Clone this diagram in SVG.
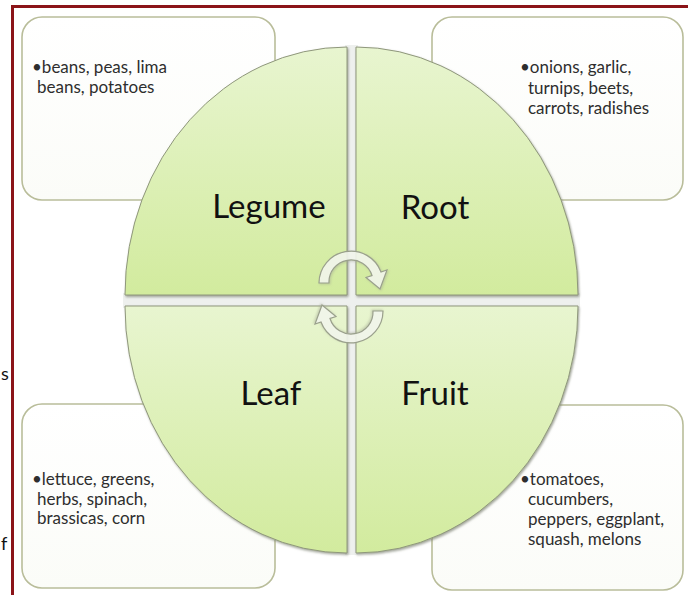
<svg xmlns="http://www.w3.org/2000/svg" width="688" height="595" viewBox="0 0 688 595">
<defs>
<linearGradient id="gq" x1="0" y1="0" x2="0" y2="1">
<stop offset="0" stop-color="#e8f5d0"/>
<stop offset="1" stop-color="#d2eb9e"/>
</linearGradient>
<linearGradient id="gb" x1="0" y1="0" x2="0" y2="1">
<stop offset="0" stop-color="#ffffff"/>
<stop offset="1" stop-color="#fbfcf8"/>
</linearGradient>
<filter id="sh" x="-10%" y="-10%" width="120%" height="120%">
<feDropShadow dx="1" dy="1.5" stdDeviation="1.2" flood-color="#7a7f70" flood-opacity="0.7"/>
</filter>
<filter id="sh2" x="-10%" y="-10%" width="120%" height="120%">
<feDropShadow dx="1" dy="1" stdDeviation="1" flood-color="#a0a490" flood-opacity="0.5"/>
</filter>
</defs>
<style>
.box{fill:url(#gb);stroke:#b9bd9a;stroke-width:1.6;}
.q{fill:url(#gq);stroke:#8f977c;stroke-width:1;filter:url(#sh);}
.bt{font-family:Lato,"Liberation Sans",sans-serif;font-size:17px;fill:#2e2e2e;}
.lb{font-family:Lato,"Liberation Sans",sans-serif;font-size:33px;fill:#111;text-anchor:middle;}
.arr{fill:#f6f9f0;fill-opacity:0.85;stroke:#9aa08c;stroke-width:1.2;filter:url(#sh2);}
.st{font-family:Lato,"Liberation Sans",sans-serif;font-size:18px;fill:#111;}
</style>
<rect width="688" height="595" fill="#ffffff"/>
<text class="st" x="1" y="380">s</text>
<text class="st" x="1" y="550">f</text>
<path d="M12.5,595 L12.5,6.5 L688,6.5" fill="none" stroke="#8b1418" stroke-width="3"/>

<g id="box-legume">
<rect class="box" x="22" y="17" width="253" height="183" rx="20"/>
<text class="bt" x="32" y="73">•beans, peas, lima</text>
<text class="bt" x="37" y="93">beans, potatoes</text>
</g>
<g id="box-root">
<rect class="box" x="432" y="17" width="251" height="183" rx="20"/>
<text class="bt" x="520" y="73">•onions, garlic,</text>
<text class="bt" x="528" y="94">turnips, beets,</text>
<text class="bt" x="528" y="114">carrots, radishes</text>
</g>
<g id="box-leaf">
<rect class="box" x="22" y="404" width="253" height="184" rx="20"/>
<text class="bt" x="32" y="485">•lettuce, greens,</text>
<text class="bt" x="37" y="505">herbs, spinach,</text>
<text class="bt" x="37" y="524">brassicas, corn</text>
</g>
<g id="box-fruit">
<rect class="box" x="432" y="405" width="251" height="185" rx="20"/>
<text class="bt" x="520" y="485">•tomatoes,</text>
<text class="bt" x="528" y="505">cucumbers,</text>
<text class="bt" x="528" y="525">peppers, eggplant,</text>
<text class="bt" x="528" y="545">squash, melons</text>
</g>

<rect x="345" y="45" width="13" height="510" fill="#eef0ee"/>
<rect x="123" y="293" width="457" height="15" fill="#eef0ee"/>

<g id="legume">
<path class="q" d="M347,295 L125,295 A222,248 0 0 1 347,47 Z"/>
<text class="lb" x="269" y="218">Legume</text>
</g>
<g id="root">
<path class="q" d="M356,295 L356,47 A222,248 0 0 1 578,295 Z"/>
<text class="lb" x="435" y="219">Root</text>
</g>
<g id="leaf">
<path class="q" d="M347,306 L347,553 A222,247 0 0 1 125,306 Z"/>
<text class="lb" x="271" y="405">Leaf</text>
</g>
<g id="fruit">
<path class="q" d="M356,306 L578,306 A222,247 0 0 1 356,553 Z"/>
<text class="lb" x="435" y="405">Fruit</text>
</g>

<g id="connectors">
<path id="arrow-top" class="arr" d="M319,283 A32,32 0 0 1 381,272 L387,270 L380,289 L366,277.5 L372,275.5 A22,22 0 0 0 329,283 Z"/>
<path id="arrow-bottom" class="arr" transform="rotate(180 351 297)" d="M319,283 A32,32 0 0 1 381,272 L387,270 L380,289 L366,277.5 L372,275.5 A22,22 0 0 0 329,283 Z"/>
</g>
</svg>
